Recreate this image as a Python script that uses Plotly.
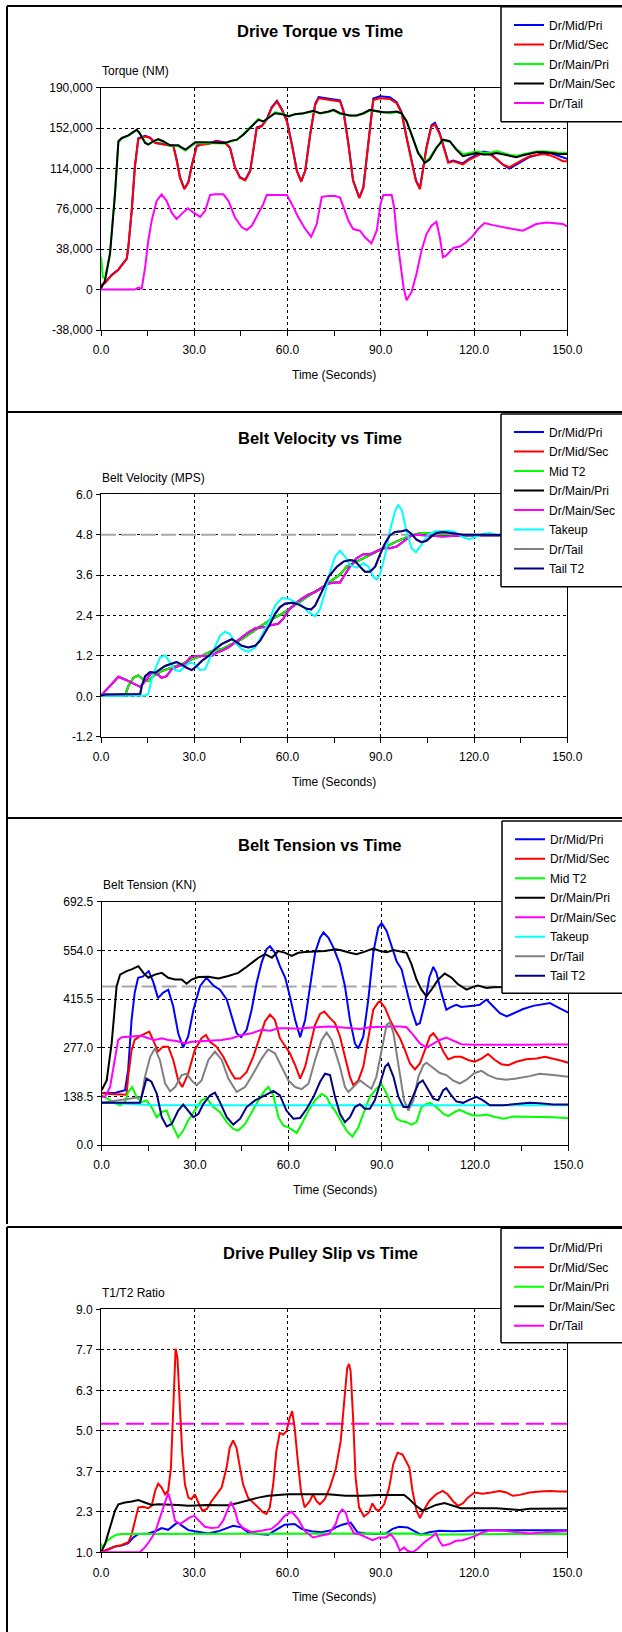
import plotly.graph_objects as go

W, H = 622, 1632

# ---------------- axis ticks ----------------
time_tick_vals = [0, 30, 60, 90, 120, 150]
torque_tick_vals = [-38000, 0, 38000, 76000, 114000, 152000, 190000]
torque_tick_text = ["-38,000", "0", "38,000", "76,000", "114,000", "152,000", "190,000"]
vel_tick_vals = [-1.2, 0.0, 1.2, 2.4, 3.6, 4.8, 6.0]
vel_tick_text = ["-1.2", "0.0", "1.2", "2.4", "3.6", "4.8", "6.0"]
ten_tick_vals = [0.0, 138.5, 277.0, 415.5, 554.0, 692.5]
ten_tick_text = ["0.0", "138.5", "277.0", "415.5", "554.0", "692.5"]
slip_tick_vals = [1.0, 7 / 3, 11 / 3, 5.0, 19 / 3, 23 / 3, 9.0]
slip_tick_text = ["1.0", "2.3", "3.7", "5.0", "6.3", "7.7", "9.0"]

# ---------------- Drive torque (NM) ----------------
tq_mid_t = [0, 1.3, 3.4, 5.6, 8.3, 8.8, 9.9, 10.9, 12.0, 14.2, 15.8, 17.4, 20.6, 23.3, 24.4, 25.4, 26.8, 28.1, 29.2, 30.8,
            32.4, 34.6, 37.2, 39.9, 41.5, 43.1, 44.7, 46.4, 48.0, 49.4, 50.1, 51.7, 53.3, 54.9, 56.6, 58.2, 59.8, 61.4, 63.0, 64.4,
            65.7, 67.3, 68.9, 70.0, 73.2, 76.9, 78.0, 79.6, 81.1, 83.1, 84.4, 86.0, 87.6, 89.7, 92.9, 95.1, 96.7, 98.3, 99.9, 101.3,
            102.6, 103.6, 104.7, 106.3, 107.4, 109.0, 110.6, 111.7, 113.3, 114.9, 116.4, 118.6, 120.7, 122.9, 125.0, 127.2, 129.3, 131.4, 133.6, 135.7,
            137.9, 140.0, 142.2, 144.3, 146.5, 148.6, 150]
tq_dr_mid_sec = [4000, 6200, 13400, 18700, 29000, 39900, 74800, 115300, 141700, 144000, 142700, 137900, 136400, 134800, 120800, 105300, 94500, 100700, 116300, 134800,
                 136400, 137000, 139600, 138000, 133300, 114700, 105300, 102800, 111500, 136400, 152000, 153600, 159800, 170700, 176900, 169100, 158200, 136400, 111500, 101500,
                 111500, 145800, 173800, 180000, 178500, 177000, 167600, 136400, 102200, 86000, 95800, 136400, 178500, 180000, 179400, 175400, 166000, 142700, 120800, 102200,
                 94500, 114700, 133300, 153600, 155200, 145800, 128600, 119300, 120800, 119300, 117800, 122400, 125500, 128600, 127700, 122400, 117800, 115300, 119300, 122400,
                 125500, 126500, 127700, 126500, 124000, 120800, 120800]
tq_dr_mid_pri = [4000, 6500, 13800, 19000, 29500, 40500, 75500, 116000, 142500, 144800, 143000, 138200, 136800, 135200, 121500, 105800, 95000, 101200, 117000, 135500,
                 136800, 137500, 140000, 138500, 133800, 115200, 105800, 103300, 112000, 137000, 152600, 154200, 160300, 171500, 177800, 169800, 158800, 137000, 112000, 102000,
                 112000, 146500, 174800, 181200, 179800, 178000, 168300, 137000, 102800, 86600, 96400, 137000, 179800, 182000, 181000, 176500, 167000, 143500, 121500, 103000,
                 95500, 115500, 134000, 154500, 157000, 147000, 129500, 120000, 121500, 120000, 118800, 123500, 126800, 130000, 128800, 123000, 117500, 113800, 117800, 121500,
                 124800, 126500, 128500, 128800, 126500, 124000, 123000]
tq_main_t = [0, 1.3, 2.9, 4.5, 5.6, 6.7, 8.8, 11.5, 12.4, 14.2, 15.2, 16.8, 18.4, 20.0, 22.2, 24.9, 25.9, 27.2, 28.6, 30.3,
             33.5, 36.7, 39.9, 42.1, 43.7, 45.8, 47.9, 50.6, 52.2, 53.9, 56.0, 58.2, 60.3, 62.4, 65.1, 68.3, 70.5, 73.2, 74.8, 76.9,
             80.1, 82.2, 84.4, 86.5, 88.7, 90.8, 92.9, 95.1, 96.7, 98.3, 99.9, 102.0, 104.2, 105.7, 107.9, 110.0, 112.2, 114.3, 116.4, 118.6,
             120.7, 122.9, 125.0, 127.2, 129.3, 131.4, 133.6, 135.7, 137.9, 140.0, 142.2, 144.3, 147.5, 150]
tq_dr_main_sec = [900, 8700, 33600, 89700, 139600, 142700, 145200, 150500, 147300, 138000, 136400, 139600, 141700, 139600, 135800, 135800, 133900, 131700, 134900, 138600,
                  138600, 138000, 138000, 140200, 141100, 145800, 152000, 159800, 158200, 161400, 166000, 165100, 162900, 165100, 166000, 168200, 166000, 167600, 169100, 166000,
                  163800, 163800, 166000, 169100, 168200, 167000, 167000, 167600, 166000, 158200, 145800, 128600, 119300, 122400, 133300, 141100, 139600, 131700, 125500, 127100,
                  128600, 127100, 127100, 128600, 127100, 125500, 124600, 126500, 128000, 129300, 129600, 128600, 127700, 127700]
tq_main_pri_t = [0, 0.6, 1.3, 2.9, 4.5, 5.6, 6.7, 8.8, 11.5, 12.4, 14.2, 15.2, 16.8, 18.4, 20.0, 22.2, 24.9, 25.9, 27.2, 28.6, 30.3,
                 33.5, 36.7, 39.9, 42.1, 43.7, 45.8, 47.9, 50.6, 52.2, 53.9, 56.0, 58.2, 60.3, 62.4, 65.1, 68.3, 70.5, 73.2, 74.8, 76.9,
                 80.1, 82.2, 84.4, 86.5, 88.7, 90.8, 92.9, 95.1, 96.7, 98.3, 99.9, 102.0, 104.2, 105.7, 107.9, 110.0, 112.2, 114.3, 116.4, 118.6,
                 120.7, 122.9, 125.0, 127.2, 129.3, 131.4, 133.6, 135.7, 137.9, 140.0, 142.2, 144.3, 147.5, 150]
tq_dr_main_pri = [31000, 12000, 10500, 35000, 91000, 139000, 142000, 144800, 150000, 147500, 138500, 136800, 139000, 141000, 139000, 135500, 134800, 133000, 130800, 134200, 137800,
                  138000, 137500, 137500, 139800, 140800, 146500, 153000, 160500, 158000, 162000, 166800, 165800, 163500, 165000, 165800, 167800, 165800, 167000, 168500, 165500,
                  163500, 163500, 165500, 168500, 167500, 166500, 166000, 167000, 165800, 159000, 147000, 129500, 120500, 123500, 134000, 140500, 139000, 132500, 127500, 129000,
                  130000, 129000, 128500, 130500, 128500, 127000, 126000, 127500, 129000, 130000, 130200, 129500, 128800, 128800]
tq_tail_t = [0, 10.9, 12.0, 13.1, 14.2, 15.2, 16.3, 17.9, 19.5, 21.1, 22.7, 24.3, 25.9, 27.9, 29.7, 31.9, 33.5, 35.1, 36.7, 39.4,
             41.0, 43.1, 45.3, 46.9, 48.5, 50.6, 52.2, 53.3, 56.0, 59.8, 61.4, 63.5, 65.7, 67.6, 69.4, 71.0, 73.2, 75.3, 76.9, 78.0,
             79.6, 81.1, 83.3, 84.9, 87.0, 88.7, 89.9, 90.8, 93.5, 94.3, 95.1, 96.2, 97.3, 98.3, 99.9, 101.5, 103.1, 104.7, 106.3, 107.9,
             109.0, 110.0, 111.1, 113.3, 115.4, 117.5, 119.7, 121.3, 123.4, 126.1, 129.3, 132.5, 135.7, 137.9, 140.0, 143.3, 146.5, 148.6, 150]
tq_dr_tail = [0, 0, 1900, 900, 21200, 46100, 64800, 83500, 89700, 83500, 72600, 66400, 71000, 76600, 72600, 68500, 74200, 89100, 89700, 89700,
              83500, 67900, 58600, 56100, 60100, 71000, 80400, 89100, 89100, 89100, 80400, 67900, 57000, 49800, 61700, 87200, 88200, 88200, 86600, 77300,
              64800, 57000, 55400, 49200, 43600, 55400, 80400, 89100, 89100, 77300, 52300, 27400, 2500, -10000, -2200, 15000, 36800, 52300, 60100, 63900,
              49200, 30500, 32100, 39200, 40500, 44500, 50800, 57000, 62600, 60700, 58600, 57000, 55400, 58600, 61700, 63200, 62600, 61700, 59500]

# ---------------- Belt velocity (MPS) ----------------
vel_main_t = [0, 1.3, 3.4, 5.6, 7.7, 9.9, 12.6, 14.2, 16.3, 17.9, 19.5, 21.1, 22.7, 24.9, 27.0, 28.6, 30.3, 33.5, 35.6, 37.2,
              38.8, 41.0, 43.1, 45.3, 47.4, 49.6, 51.7, 53.3, 54.9, 57.0, 58.6, 60.3, 62.4, 64.6, 66.7, 68.9, 71.0, 73.2, 75.3, 76.9,
              78.0, 80.1, 82.2, 84.4, 86.5, 88.7, 90.8, 92.9, 95.1, 97.3, 99.4, 101.5, 105.8, 110.0, 116.5, 150]
vel_dr_main = [0.02, 0.15, 0.35, 0.58, 0.50, 0.40, 0.28, 0.45, 0.70, 0.68, 0.55, 0.60, 0.80, 0.90, 0.95, 1.15, 1.20, 1.20, 1.20, 1.30,
               1.35, 1.45, 1.60, 1.75, 1.90, 2.02, 2.05, 2.05, 2.12, 2.15, 2.30, 2.55, 2.75, 2.90, 3.02, 3.10, 3.22, 3.35, 3.38, 3.38,
               3.55, 3.85, 4.10, 4.22, 4.22, 4.30, 4.40, 4.40, 4.45, 4.60, 4.75, 4.80, 4.78, 4.75, 4.78, 4.78]
vel_mid_t = [0, 7.7, 8.8, 10.4, 12.0, 13.6, 15.2, 16.8, 19.5, 22.7, 25.9, 29.2, 32.4, 35.6, 38.8, 42.1, 45.3, 48.5, 51.7, 54.9,
             58.2, 61.4, 64.6, 67.8, 71.0, 74.2, 76.9, 79.1, 82.2, 85.4, 88.7, 91.9, 95.1, 98.3, 101.5, 103.7, 106.8, 111.1, 116.5, 150]
vel_mid = [0.02, 0.02, 0.30, 0.55, 0.62, 0.50, 0.45, 0.60, 0.75, 0.85, 0.95, 1.10, 1.20, 1.35, 1.40, 1.55, 1.70, 1.90, 2.10, 2.30,
           2.45, 2.65, 2.85, 3.05, 3.22, 3.45, 3.62, 3.85, 4.00, 4.15, 4.30, 4.45, 4.60, 4.72, 4.82, 4.85, 4.82, 4.80, 4.78, 4.78]
vel_takeup_t = [0, 14.2, 15.2, 16.3, 17.4, 19.0, 20.6, 22.2, 23.8, 25.4, 27.0, 28.6, 30.3, 31.9, 33.5, 35.1, 36.7, 38.3, 39.9, 41.5,
                43.1, 45.3, 47.4, 49.6, 51.7, 53.9, 56.0, 58.2, 60.3, 62.4, 64.6, 66.7, 68.9, 70.5, 72.1, 73.7, 75.3, 76.9, 78.5, 80.1,
                82.2, 84.4, 86.0, 87.6, 88.7, 89.7, 91.4, 92.9, 94.6, 95.6, 96.7, 98.3, 99.9, 101.3, 103.1, 105.2, 107.4, 109.5, 111.7, 113.8,
                116.5, 118.6, 120.7, 122.9, 125.0, 127.2, 135, 150]
vel_takeup = [0.02, 0.02, 0.07, 0.50, 0.80, 1.15, 1.22, 1.00, 0.78, 0.75, 0.90, 1.00, 0.95, 0.78, 0.80, 1.15, 1.50, 1.80, 1.92, 1.85,
              1.60, 1.40, 1.32, 1.45, 1.80, 2.20, 2.70, 2.92, 2.90, 2.80, 2.70, 2.50, 2.38, 2.60, 3.10, 3.70, 4.15, 4.32, 4.15, 3.90,
              3.82, 3.95, 3.85, 3.55, 3.47, 3.60, 4.20, 4.90, 5.50, 5.68, 5.55, 4.90, 4.40, 4.28, 4.50, 4.80, 4.90, 4.90, 4.92, 4.88,
              4.72, 4.67, 4.75, 4.82, 4.85, 4.80, 4.80, 4.80]
vel_tail_t = [0, 1.3, 12.6, 13.1, 14.2, 15.8, 17.4, 19.0, 20.6, 22.2, 24.3, 25.9, 27.5, 29.2, 30.8, 32.4, 34.6, 36.7, 38.8, 41.0,
              42.1, 43.7, 45.3, 47.4, 49.6, 51.2, 52.8, 54.4, 56.0, 57.6, 59.2, 61.4, 63.0, 64.6, 66.2, 67.6, 68.9, 71.0, 73.2, 75.9,
              78.0, 80.1, 81.7, 83.3, 84.9, 86.5, 88.2, 89.7, 91.4, 92.9, 94.6, 96.7, 98.3, 99.9, 101.5, 103.1, 104.7, 106.3, 107.9, 110.0,
              113.3, 116.5, 120.7, 150]
vel_tail = [0.02, 0.05, 0.07, 0.30, 0.60, 0.72, 0.70, 0.80, 0.90, 0.95, 1.02, 0.95, 0.85, 0.78, 0.90, 1.05, 1.20, 1.40, 1.55, 1.65,
            1.70, 1.60, 1.50, 1.45, 1.50, 1.65, 1.90, 2.15, 2.45, 2.65, 2.75, 2.78, 2.75, 2.68, 2.60, 2.58, 2.70, 3.10, 3.55, 3.85,
            4.00, 4.05, 4.02, 3.85, 3.70, 3.70, 3.85, 4.20, 4.55, 4.78, 4.88, 4.90, 4.94, 4.82, 4.65, 4.58, 4.62, 4.75, 4.85, 4.88,
            4.85, 4.80, 4.80, 4.78]
vel_target_t = [0, 150]
vel_target = [4.8, 4.8]

# ---------------- Belt tension (KN) ----------------
ten_main_pri_t = [0, 1.6, 3.2, 4.8, 5.9, 8.0, 9.6, 11.8, 13.4, 15.0, 17.1, 19.3, 21.4, 23.6, 25.7, 27.3, 28.9, 31.1, 34.3, 37.5,
                  40.7, 43.9, 46.1, 48.2, 50.4, 52.5, 54.7, 56.8, 59.0, 61.1, 63.2, 65.4, 68.6, 71.8, 75.1, 76.6, 79.8, 81.9, 84.1, 87.3,
                  89.5, 91.6, 93.8, 95.9, 98.0, 99.6, 101.2, 102.8, 104.4, 106.0, 108.2, 110.3, 112.5, 114.6, 117.3, 119.4, 121.0, 123.7, 125.9, 130,
                  140, 150]
ten_main_pri = [156, 184, 289, 452, 485, 495, 500, 509, 490, 476, 485, 490, 476, 471, 471, 459, 471, 478, 479, 474,
                481, 490, 504, 518, 533, 543, 533, 552, 547, 538, 547, 549, 550, 552, 557, 555, 547, 543, 549, 559,
                552, 549, 555, 552, 547, 514, 471, 442, 423, 442, 471, 488, 476, 457, 442, 450, 454, 447, 449, 450,
                450, 450]
ten_mid_pri_t = [0, 4.2, 7.5, 8.5, 9.6, 10.6, 11.7, 13.3, 15.1, 16.5, 18.1, 19.7, 21.4, 23.0, 24.6, 26.2, 27.8, 29.5, 31.6, 33.7,
                 35.9, 38.0, 40.2, 41.8, 43.4, 44.8, 46.6, 48.2, 49.8, 51.4, 53.0, 54.1, 55.7, 57.3, 59.0, 60.5, 62.2, 63.8, 65.4, 67.0,
                 68.6, 70.2, 71.3, 72.9, 74.5, 76.6, 78.2, 79.8, 81.4, 82.5, 84.1, 85.7, 87.3, 88.9, 90.0, 91.6, 93.2, 94.8, 96.4, 98.0,
                 99.6, 101.2, 102.3, 103.9, 105.3, 106.6, 107.6, 109.2, 110.8, 112.4, 114.0, 115.6, 117.3, 119.4, 121.5, 123.7, 125.9, 128.0, 130.2, 132.3,
                 135.5, 138.7, 141.9, 144.1, 146.2, 148.3, 150]
ten_mid_pri = [148, 148, 156, 213, 356, 433, 476, 480, 495, 466, 418, 433, 442, 394, 318, 278, 309, 385, 452, 476,
               454, 442, 414, 366, 318, 307, 328, 385, 461, 519, 557, 566, 547, 509, 476, 423, 356, 307, 356, 452,
               547, 590, 605, 590, 562, 514, 452, 356, 289, 275, 309, 414, 547, 619, 631, 609, 566, 523, 500, 442,
               385, 342, 347, 404, 476, 507, 490, 433, 385, 393, 399, 393, 394, 396, 399, 414, 394, 375, 366, 375,
               387, 396, 402, 404, 394, 385, 377]
ten_mid_sec_t = [0, 1.1, 8.0, 8.5, 9.6, 10.6, 12.3, 13.9, 15.3, 16.5, 18.1, 19.7, 21.4, 23.0, 24.6, 25.9, 27.8, 29.9, 32.1, 33.5,
                 34.8, 36.9, 39.1, 41.2, 42.8, 44.5, 46.6, 48.7, 50.9, 52.5, 54.1, 55.7, 57.3, 59.0, 60.5, 62.2, 63.8, 65.4, 67.0, 68.6,
                 70.2, 71.6, 73.4, 75.0, 76.6, 78.2, 79.8, 80.9, 82.5, 84.1, 85.7, 87.3, 88.9, 89.5, 91.1, 92.7, 94.3, 95.9, 97.5, 99.1,
                 100.7, 102.3, 103.9, 105.5, 106.6, 108.2, 109.8, 111.4, 113.5, 115.6, 117.8, 119.9, 122.1, 124.2, 126.4, 128.5, 130.7, 133.3, 136.5, 139.8,
                 142.5, 145.1, 147.8, 150]
ten_mid_sec = [148, 146, 143, 194, 270, 299, 310, 316, 323, 299, 266, 280, 280, 242, 184, 165, 203, 270, 304, 313,
               294, 280, 251, 213, 189, 189, 208, 251, 309, 352, 371, 356, 304, 280, 261, 227, 189, 223, 280, 342,
               373, 380, 361, 347, 309, 251, 194, 170, 184, 223, 309, 385, 406, 409, 390, 356, 328, 304, 270, 232,
               215, 232, 270, 309, 318, 299, 266, 244, 251, 251, 242, 237, 246, 259, 242, 230, 227, 237, 244, 246,
               251, 246, 240, 234]
ten_mid_t2_t = [0, 1.6, 3.7, 5.9, 7.5, 8.5, 9.8, 11.2, 12.8, 14.4, 16.0, 17.7, 19.3, 20.9, 22.5, 24.6, 26.2, 27.8, 29.9, 32.1,
                33.7, 35.9, 38.0, 40.2, 42.3, 43.9, 46.1, 48.2, 50.4, 52.5, 53.6, 55.2, 56.8, 58.4, 60.0, 61.6, 62.7, 64.3, 66.5, 68.6,
                70.7, 72.3, 73.4, 75.0, 76.6, 78.7, 80.6, 82.5, 84.1, 86.2, 88.3, 90.0, 91.6, 93.2, 94.8, 96.4, 98.0, 99.6, 101.2, 102.8,
                104.4, 105.5, 107.6, 109.8, 111.4, 113.5, 115.1, 117.3, 119.4, 121.5, 123.7, 125.9, 129.1, 132.3, 136.5, 140.8, 145.1, 150]
ten_mid_t2 = [141, 132, 122, 113, 122, 151, 165, 137, 122, 127, 108, 79, 94, 98, 60, 22, 41, 70, 98, 127,
              134, 108, 94, 65, 46, 41, 60, 94, 127, 156, 165, 141, 79, 55, 50, 41, 34, 60, 98, 127,
              146, 137, 117, 98, 75, 41, 24, 50, 89, 137, 160, 173, 146, 108, 75, 68, 65, 58, 65, 108,
              117, 120, 108, 89, 82, 94, 100, 91, 84, 84, 87, 81, 75, 81, 81, 79, 79, 76]
ten_main_sec_t = [0, 1.1, 2.7, 4.3, 5.3, 6.4, 8.5, 10.6, 12.8, 15.0, 17.1, 19.3, 21.4, 24.1, 26.8, 28.9, 32.1, 35.3, 38.6, 41.8,
                  45.0, 48.2, 51.4, 54.1, 56.8, 60.0, 63.2, 66.5, 69.7, 72.9, 76.6, 79.8, 83.0, 86.2, 89.5, 92.7, 95.9, 98.0, 100.2, 102.3,
                  104.4, 106.6, 108.7, 110.8, 112.9, 115.6, 119.4, 123.7, 128.0, 132.3, 137.6, 143.0, 150]
ten_main_sec = [137, 137, 165, 251, 299, 307, 309, 310, 311, 304, 299, 304, 299, 296, 289, 294, 296, 297, 299, 304,
                313, 318, 328, 325, 332, 332, 331, 334, 335, 337, 335, 332, 330, 335, 337, 337, 337, 335, 313, 289,
                277, 289, 299, 306, 297, 287, 285, 285, 285, 283, 285, 286, 286]
ten_takeup_t = [0, 5, 10, 15, 30, 60, 90, 120, 150]
ten_takeup = [121, 118, 117, 114, 113, 113, 112, 113, 113]
ten_dr_tail_t = [0, 12.8, 13.9, 15.6, 17.1, 18.7, 20.4, 22.0, 23.6, 25.7, 27.3, 28.9, 30.5, 32.1, 34.3, 36.4, 38.6, 40.7, 43.4, 46.1,
                 48.7, 51.4, 53.5, 55.7, 57.8, 60.0, 62.2, 64.3, 66.5, 68.6, 70.7, 72.3, 73.9, 75.0, 76.6, 78.2, 79.3, 80.9, 83.0, 85.1,
                 86.7, 88.3, 90.0, 91.6, 92.7, 93.8, 94.8, 95.9, 97.2, 98.6, 100.2, 101.8, 103.4, 104.4, 106.6, 108.7, 110.8, 112.9, 115.1, 117.3,
                 119.9, 122.1, 124.2, 126.9, 130.1, 133.3, 137.6, 140.8, 145.1, 150]
ten_dr_tail = [120, 137, 194, 251, 275, 242, 175, 153, 165, 199, 203, 184, 170, 184, 242, 266, 242, 189, 151, 165,
               203, 246, 272, 261, 223, 184, 165, 159, 175, 242, 299, 320, 299, 270, 223, 165, 151, 165, 184, 170,
               160, 194, 270, 342, 349, 318, 261, 194, 127, 98, 127, 194, 227, 234, 218, 205, 199, 184, 175, 186,
               205, 211, 199, 189, 186, 189, 196, 203, 199, 194]
ten_tail_t2_t = [0, 12.3, 13.4, 14.4, 16.0, 17.7, 19.3, 20.9, 22.5, 24.6, 26.2, 27.8, 29.5, 31.1, 32.7, 34.8, 36.4, 38.0, 40.2, 42.3,
                 44.5, 46.6, 49.3, 52.5, 55.2, 57.3, 59.4, 61.6, 63.8, 65.9, 68.1, 70.2, 71.8, 73.4, 75.0, 76.6, 78.2, 79.8, 81.4, 83.0,
                 84.6, 86.2, 87.8, 89.5, 91.1, 92.1, 93.8, 95.4, 97.0, 98.6, 100.2, 101.8, 103.2, 105.0, 106.6, 108.2, 109.8, 110.8, 112.4, 114.0,
                 116.2, 118.3, 120.5, 122.6, 124.8, 129.1, 133.3, 137.6, 140.8, 145.1, 150]
ten_tail_t2 = [120, 120, 156, 189, 180, 146, 79, 53, 60, 98, 115, 98, 79, 89, 117, 141, 149, 122, 79, 58,
               75, 108, 127, 141, 154, 141, 98, 75, 77, 103, 137, 180, 203, 199, 137, 89, 65, 79, 108, 116,
               103, 103, 127, 175, 223, 232, 194, 137, 108, 108, 141, 175, 184, 156, 132, 127, 156, 162, 141, 124,
               120, 129, 137, 127, 113, 113, 116, 120, 119, 115, 115]
ten_limit_t = [0, 150]
ten_limit = [451, 451]

# ---------------- Drive pulley slip (T1/T2) ----------------
slip_mid_sec_t = [0, 2.4, 4.5, 6.6, 8.8, 9.9, 10.9, 12.0, 13.6, 15.2, 16.3, 17.4, 18.4, 19.5, 20.6, 21.6, 22.5, 23.2, 24.0, 24.6,
                  25.4, 26.1, 27.0, 28.1, 29.1, 30.2, 31.3, 32.6, 34.0, 35.6, 37.2, 38.8, 40.4, 41.4, 42.5, 43.6, 44.7, 45.7, 47.3, 48.9,
                  50.6, 52.2, 53.2, 54.3, 55.4, 56.4, 57.5, 58.6, 59.7, 60.7, 61.5, 62.3, 63.2, 64.3, 65.5, 67.2, 68.2, 69.3, 70.4, 72.0,
                  73.6, 75.5, 77.1, 78.2, 79.2, 79.8, 80.3, 81.1, 81.9, 83.0, 84.6, 86.2, 87.3, 88.4, 89.5, 91.1, 92.7, 94.0, 95.4, 97.0,
                  98.1, 99.2, 100.2, 101.5, 102.6, 104.0, 105.6, 107.8, 109.9, 111.5, 113.2, 114.8, 116.4, 118.0, 120.2, 122.8, 125.5, 128.2, 130.4, 132.5,
                  134.7, 137.9, 141.2, 144.4, 147.6, 150]
slip_mid_sec = [1.00, 1.11, 1.19, 1.24, 1.33, 1.60, 2.04, 2.48, 2.50, 2.45, 2.53, 3.02, 3.26, 3.13, 2.91, 3.02, 3.79, 5.43, 7.70, 7.39,
                5.97, 4.33, 3.24, 2.80, 2.75, 2.91, 2.64, 2.37, 2.42, 2.69, 2.91, 3.13, 3.79, 4.44, 4.68, 4.44, 3.79, 3.24, 2.80, 2.64,
                2.48, 2.31, 2.26, 2.48, 3.24, 4.33, 4.93, 4.88, 4.99, 5.43, 5.65, 5.10, 4.12, 3.02, 2.48, 2.69, 2.91, 2.69, 2.58, 2.75,
                3.13, 3.73, 4.66, 5.97, 7.07, 7.20, 6.96, 5.43, 3.46, 2.48, 2.18, 2.31, 2.61, 2.42, 2.37, 2.58, 3.13, 3.90, 4.28, 4.22,
                4.01, 3.79, 3.02, 2.37, 2.13, 2.42, 2.69, 2.91, 3.02, 2.91, 2.69, 2.53, 2.61, 2.80, 2.97, 2.93, 2.97, 3.02, 2.97, 2.86,
                2.89, 2.97, 3.00, 3.02, 3.00, 3.00]
slip_main_sec_t = [0, 1.3, 2.9, 4.5, 5.6, 7.7, 9.9, 12.0, 14.1, 16.3, 18.4, 21.6, 24.8, 28.1, 31.3, 34.5, 37.7, 40.9, 44.1, 47.3,
                   50.6, 53.8, 57.0, 60.2, 66.6, 73.0, 78.7, 84.1, 89.5, 94.8, 97.5, 99.2, 101.3, 103.5, 105.6, 107.8, 110.5, 113.2, 115.8, 118.5,
                   122.8, 127.2, 131.5, 134.7, 137.9, 143.3, 150]
slip_main_sec = [1.00, 1.27, 1.82, 2.37, 2.58, 2.64, 2.67, 2.72, 2.64, 2.56, 2.58, 2.58, 2.56, 2.53, 2.55, 2.56, 2.55, 2.55, 2.62, 2.72,
                 2.80, 2.86, 2.89, 2.91, 2.91, 2.91, 2.86, 2.86, 2.89, 2.89, 2.89, 2.75, 2.53, 2.37, 2.45, 2.56, 2.62, 2.53, 2.45, 2.45,
                 2.45, 2.45, 2.42, 2.39, 2.43, 2.44, 2.44]
slip_main_pri_t = [0, 0.2, 1.8, 3.4, 5.0, 6.6, 10, 30, 50, 60, 90, 100, 102.4, 110, 130, 150]
slip_main_pri = [1.30, 1.15, 1.36, 1.49, 1.58, 1.60, 1.60, 1.60, 1.61, 1.62, 1.62, 1.62, 1.58, 1.59, 1.60, 1.60]
slip_mid_pri_t = [0, 2.4, 4.5, 6.6, 8.8, 10.4, 12.0, 15.2, 17.9, 19.5, 21.6, 23.2, 24.6, 26.1, 28.1, 30.2, 32.3, 34.5, 37.7, 40.9,
                  42.5, 45.2, 47.3, 50.6, 53.8, 55.9, 59.1, 62.3, 64.5, 67.7, 70.9, 74.1, 75.5, 77.6, 80.3, 82.5, 85.2, 88.4, 91.6, 93.8,
                  95.9, 98.6, 100.8, 102.9, 105.6, 108.8, 113.2, 118.5, 123.9, 130.4, 137.9, 150]
slip_mid_pri = [1.00, 1.11, 1.19, 1.22, 1.30, 1.49, 1.60, 1.62, 1.71, 1.80, 1.74, 1.87, 1.98, 1.87, 1.73, 1.69, 1.66, 1.62, 1.69, 1.82,
                1.87, 1.82, 1.66, 1.60, 1.58, 1.71, 1.91, 1.93, 1.77, 1.69, 1.66, 1.73, 1.82, 1.91, 1.98, 1.66, 1.62, 1.60, 1.62, 1.77,
                1.84, 1.82, 1.71, 1.58, 1.66, 1.71, 1.69, 1.71, 1.73, 1.73, 1.73, 1.73]
slip_tail_t = [0, 12.5, 14.1, 15.7, 17.4, 19.0, 20.6, 21.6, 22.7, 23.8, 25.4, 27.0, 28.6, 30.0, 31.8, 33.4, 35.6, 37.7, 39.3, 40.7,
               41.8, 43.1, 44.1, 45.7, 48.4, 51.6, 54.8, 57.0, 59.1, 61.3, 63.4, 65.5, 68.2, 70.9, 73.3, 75.5, 76.5, 77.6, 78.7, 79.8,
               81.4, 83.0, 85.2, 87.3, 89.5, 91.6, 93.2, 94.8, 96.1, 97.5, 98.6, 100.2, 101.8, 104.0, 106.2, 107.8, 108.8, 109.9, 112.1, 114.2,
               116.4, 118.5, 120.7, 122.8, 125.0, 129.3, 133.6, 137.9, 142.2, 146.5, 150]
slip_tail = [1.00, 1.00, 1.16, 1.38, 1.66, 2.15, 2.69, 2.95, 2.58, 2.04, 1.93, 2.04, 2.15, 2.20, 2.02, 1.84, 1.80, 1.82, 2.04, 2.42,
             2.66, 2.37, 1.98, 1.80, 1.66, 1.71, 1.77, 1.95, 2.20, 2.34, 2.09, 1.71, 1.49, 1.55, 1.60, 1.93, 2.26, 2.41, 2.31, 1.93,
             1.62, 1.60, 1.49, 1.40, 1.49, 1.49, 1.60, 1.38, 1.05, 1.16, 1.05, 1.00, 1.11, 1.33, 1.49, 1.62, 1.38, 1.22, 1.27, 1.38,
             1.40, 1.47, 1.55, 1.66, 1.71, 1.71, 1.66, 1.62, 1.66, 1.69, 1.69]
slip_limit_t = [0, 150]
slip_limit = [5.23, 5.23]

# ---------------- styling ----------------
BLUE, RED, GREEN, BLACK = "#0000FF", "#FF0000", "#00FF00", "#000000"
MAGENTA, CYAN, GRAY, NAVY = "#FF00FF", "#00FFFF", "#808080", "#000080"
FONT = "Liberation Sans, Arial, sans-serif"

panels = [
    dict(left=101.0, right=567.3, top=87.7, bot=330.0, frame=6, title_y=31.0, box=(501, 6.7, 121.7), item0=25.0,
         title="Drive Torque vs Time", ylabel="Torque (NM)", rng=[-38000, 190000],
         tv=torque_tick_vals, tt=torque_tick_text),
    dict(left=101.0, right=567.3, top=494.3, bot=736.7, frame=412, title_y=438.0, box=(501, 414.0, 586.7), item0=432.0,
         title="Belt Velocity vs Time", ylabel="Belt Velocity (MPS)", rng=[-1.2, 6.0],
         tv=vel_tick_vals, tt=vel_tick_text),
    dict(left=101.7, right=568.3, top=901.7, bot=1145.0, frame=818, title_y=845.0, box=(502, 821.0, 993.3), item0=839.3,
         title="Belt Tension vs Time", ylabel="Belt Tension (KN)", rng=[0, 692.5],
         tv=ten_tick_vals, tt=ten_tick_text),
    dict(left=101.0, right=567.3, top=1309.3, bot=1552.3, frame=1227, title_y=1253.3, box=(501, 1228.3, 1342.7), item0=1247.7,
         title="Drive Pulley Slip vs Time", ylabel="T1/T2 Ratio", rng=[1.0, 9.0],
         tv=slip_tick_vals, tt=slip_tick_text),
]


def px(x):
    return x / W


def py(y):
    return 1 - y / H


fig = go.Figure()


def add(i, t, v, name, color, dash=None, showlegend=True):
    sfx = "" if i == 0 else str(i + 1)
    fig.add_trace(go.Scatter(
        x=t, y=v, mode="lines", name=name,
        line=dict(color=color, width=2, dash=dash),
        xaxis="x" + sfx, yaxis="y" + sfx,
        legend="legend" + sfx, legendgroup="g%d_%s" % (i, name),
        showlegend=showlegend, hoverinfo="skip"))


add(0, tq_mid_t, tq_dr_mid_pri, "Dr/Mid/Pri", BLUE)
add(0, tq_mid_t, tq_dr_mid_sec, "Dr/Mid/Sec", RED)
add(0, tq_main_pri_t, tq_dr_main_pri, "Dr/Main/Pri", GREEN)
add(0, tq_main_t, tq_dr_main_sec, "Dr/Main/Sec", BLACK)
add(0, tq_tail_t, tq_dr_tail, "Dr/Tail", MAGENTA)

add(1, vel_target_t, vel_target, "target", "#A8A8A8", dash="15px,5px", showlegend=False)
add(1, vel_mid_t, vel_mid, "Dr/Mid/Pri", BLUE)
add(1, vel_mid_t, vel_mid, "Dr/Mid/Sec", RED)
add(1, vel_mid_t, vel_mid, "Mid T2", GREEN)
add(1, vel_main_t, vel_dr_main, "Dr/Main/Pri", BLACK)
add(1, vel_main_t, vel_dr_main, "Dr/Main/Sec", MAGENTA)
add(1, vel_takeup_t, vel_takeup, "Takeup", CYAN)
add(1, vel_tail_t, vel_tail, "Dr/Tail", GRAY)
add(1, vel_tail_t, vel_tail, "Tail T2", NAVY)

add(2, ten_limit_t, ten_limit, "limit", "#A8A8A8", dash="15px,5px", showlegend=False)
add(2, ten_mid_pri_t, ten_mid_pri, "Dr/Mid/Pri", BLUE)
add(2, ten_mid_sec_t, ten_mid_sec, "Dr/Mid/Sec", RED)
add(2, ten_mid_t2_t, ten_mid_t2, "Mid T2", GREEN)
add(2, ten_main_pri_t, ten_main_pri, "Dr/Main/Pri", BLACK)
add(2, ten_main_sec_t, ten_main_sec, "Dr/Main/Sec", MAGENTA)
add(2, ten_takeup_t, ten_takeup, "Takeup", CYAN)
add(2, ten_dr_tail_t, ten_dr_tail, "Dr/Tail", GRAY)
add(2, ten_tail_t2_t, ten_tail_t2, "Tail T2", NAVY)

add(3, slip_limit_t, slip_limit, "limit", MAGENTA, dash="18px,7px", showlegend=False)
add(3, slip_mid_pri_t, slip_mid_pri, "Dr/Mid/Pri", BLUE)
add(3, slip_mid_sec_t, slip_mid_sec, "Dr/Mid/Sec", RED)
add(3, slip_main_pri_t, slip_main_pri, "Dr/Main/Pri", GREEN)
add(3, slip_main_sec_t, slip_main_sec, "Dr/Main/Sec", BLACK)
add(3, slip_tail_t, slip_tail, "Dr/Tail", MAGENTA)

layout = dict(
    width=W, height=H, margin=dict(l=0, r=0, t=0, b=0, pad=0, autoexpand=False), autosize=False,
    paper_bgcolor="white", plot_bgcolor="white",
    font=dict(family=FONT, size=12, color="black"),
    showlegend=True, shapes=[], annotations=[],
)


def hline(x0, x1, y, width):
    return dict(type="line", xref="paper", yref="paper", x0=px(x0), x1=px(x1), y0=py(y), y1=py(y),
                line=dict(color="black", width=width), layer="above")


def vline(x, y0, y1, width):
    return dict(type="line", xref="paper", yref="paper", x0=px(x), x1=px(x), y0=py(y0), y1=py(y1),
                line=dict(color="black", width=width), layer="above")


for i, p in enumerate(panels):
    sfx = "" if i == 0 else str(i + 1)
    layout["xaxis" + sfx] = dict(
        domain=[px(p["left"]), px(p["right"])], anchor="y" + sfx, range=[0, 150], automargin=False,
        tickmode="array", tickvals=time_tick_vals, ticktext=["%.1f" % v for v in time_tick_vals],
        ticks="outside", ticklen=5, tickcolor="black", tickwidth=1,
        minor=dict(dtick=15, tick0=0, ticks="outside", ticklen=5, tickcolor="black", showgrid=False),
        showline=True, linecolor="black", linewidth=1, mirror=True,
        showgrid=True, gridcolor="black", gridwidth=1, griddash="3px,3px",
        zeroline=False, fixedrange=True, tickfont=dict(size=12, family=FONT), ticklabelstandoff=4)
    layout["yaxis" + sfx] = dict(
        domain=[py(p["bot"]), py(p["top"])], anchor="x" + sfx, range=p["rng"], automargin=False,
        tickmode="array", tickvals=p["tv"], ticktext=p["tt"],
        ticks="outside", ticklen=4, tickcolor="black", tickwidth=1,
        showline=True, linecolor="black", linewidth=1, mirror=True,
        showgrid=True, gridcolor="black", gridwidth=1, griddash="3px,3px",
        zeroline=False, fixedrange=True, tickfont=dict(size=12, family=FONT), ticklabelstandoff=1)
    # panel frame (top + left lines, running off the right edge)
    layout["shapes"].append(hline(7, W, p["frame"], 2))
    layout["shapes"].append(vline(7, p["frame"], min(p["frame"] + 406, H), 2))
    # legend box: white fill, border on top/left/bottom
    bx, by0, by1 = p["box"]
    layout["shapes"].append(dict(type="rect", xref="paper", yref="paper",
                                 x0=px(bx), x1=1.0, y0=py(by1), y1=py(by0),
                                 line=dict(width=0), fillcolor="white", layer="above"))
    layout["shapes"].append(hline(bx, W, by0, 1.5))
    layout["shapes"].append(hline(bx, W, by1, 1.5))
    layout["shapes"].append(vline(bx, by0, by1, 1.5))
    layout["legend" + sfx] = dict(
        x=px(bx + 8), y=py(p["item0"] - 14.5), xanchor="left", yanchor="top",
        bgcolor="rgba(0,0,0,0)", borderwidth=0, tracegroupgap=0.5,
        font=dict(size=12, family=FONT, color="black"), itemclick=False, itemdoubleclick=False)
    layout["annotations"].append(dict(text="<b>%s</b>" % p["title"], xref="paper", yref="paper",
                                      x=px(320), y=py(p["title_y"]), xanchor="center", yanchor="middle",
                                      showarrow=False, font=dict(size=16.5, family=FONT)))
    layout["annotations"].append(dict(text=p["ylabel"], xref="paper", yref="paper",
                                      x=px(p["left"] - 1), y=py(p["top"] - 16.5), xanchor="left", yanchor="middle",
                                      showarrow=False, font=dict(size=12, family=FONT)))
    layout["annotations"].append(dict(text="Time (Seconds)", xref="paper", yref="paper",
                                      x=px((p["left"] + p["right"]) / 2), y=py(p["bot"] + 45), xanchor="center",
                                      yanchor="middle", showarrow=False, font=dict(size=12, family=FONT)))

fig.update_layout(**layout)

# remove the default 8px page margin so the 622x1632 figure fills the window exactly
PAGE_FIX = ("document.documentElement.style.margin='0';document.body.style.margin='0';"
            "document.documentElement.style.overflow='hidden';document.body.style.overflow='hidden';")
fig.write_html("out.html", config={"displayModeBar": False, "responsive": False},
               post_script=PAGE_FIX + "}); " + PAGE_FIX + " (function(){")
